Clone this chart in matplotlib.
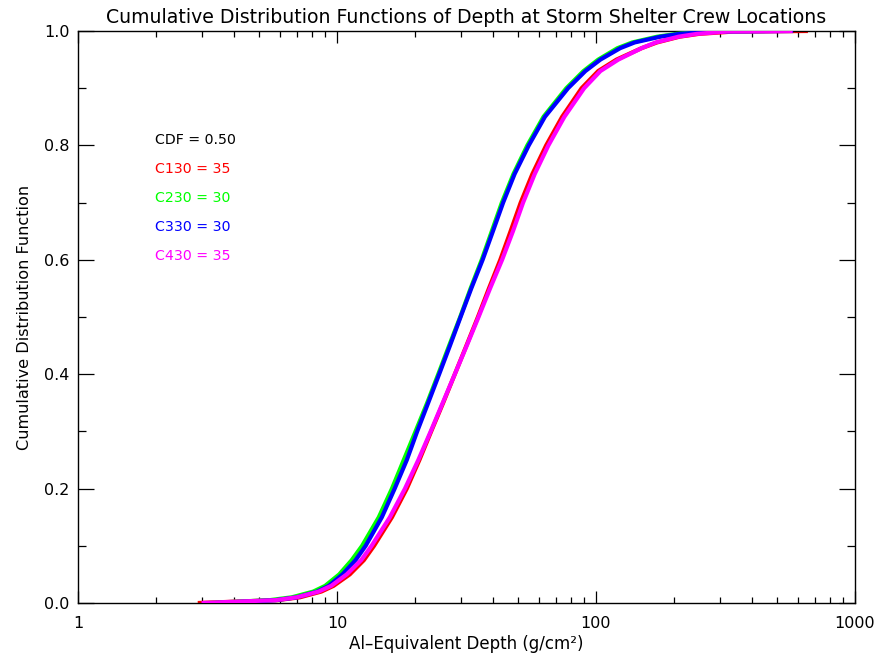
import matplotlib
matplotlib.use("Agg")
import matplotlib.pyplot as plt
from matplotlib.ticker import FixedLocator, NullFormatter, LogLocator
import numpy as np

# Cumulative probability levels shared by all crew locations
cdf_levels = [0.0, 0.005, 0.01, 0.02, 0.03, 0.05, 0.075, 0.10, 0.15, 0.20,
              0.25, 0.30, 0.35, 0.40, 0.45, 0.50, 0.55, 0.60, 0.65, 0.70,
              0.75, 0.80, 0.85, 0.90, 0.93, 0.95, 0.97, 0.98, 0.99, 0.995,
              0.999, 1.0]

# Al-equivalent depth (g/cm^2) reached at each CDF level
depth_c130 = [2.9, 5.9, 7.2, 8.7, 9.7, 11.2, 12.7, 13.9, 16.3, 18.6,
              20.8, 23.1, 25.7, 28.5, 31.6, 35.0, 38.6, 42.7, 46.8, 51.2,
              56.8, 64.2, 74.0, 88.0, 102.0, 120.0, 150.0, 172.0, 210.0, 250.0,
              340.0, 658.0]
depth_c230 = [3.2, 5.5, 6.7, 8.1, 9.0, 10.2, 11.4, 12.5, 14.5, 16.3,
              18.1, 20.1, 22.3, 24.6, 27.1, 29.9, 32.8, 36.2, 39.6, 43.3,
              48.0, 54.3, 62.7, 76.8, 89.5, 102.0, 121.0, 138.0, 172.0, 205.0,
              265.0, 450.0]
depth_c330 = [3.4, 5.8, 7.0, 8.4, 9.3, 10.5, 11.8, 12.9, 14.9, 16.7,
              18.6, 20.4, 22.5, 24.8, 27.3, 30.0, 33.0, 36.5, 40.0, 43.8,
              48.5, 55.0, 63.5, 78.0, 91.0, 104.0, 124.0, 141.0, 177.0, 210.0,
              280.0, 577.0]
depth_c430 = [3.0, 5.8, 7.0, 8.5, 9.5, 10.9, 12.4, 13.6, 16.0, 18.3,
              20.6, 23.0, 25.6, 28.5, 31.7, 35.2, 39.0, 43.4, 47.8, 52.3,
              58.0, 65.5, 75.5, 90.0, 104.0, 122.0, 150.0, 170.0, 208.0, 245.0,
              320.0, 574.0]

series_names = ["C130", "C230", "C330", "C430"]
series_colors = ["#ff0000", "#00ff00", "#0000ff", "#ff00ff"]
medians = [35, 30, 30, 35]

x_ticks = [1, 10, 100, 1000]
x_tick_labels = ["1", "10", "100", "1000"]
y_ticks = [0.0, 0.2, 0.4, 0.6, 0.8, 1.0]
y_tick_labels = ["0.0", "0.2", "0.4", "0.6", "0.8", "1.0"]

plt.rcParams["font.family"] = ["DejaVu Sans"]

fig = plt.figure(figsize=(8.89, 6.55), dpi=100)
ax = fig.add_axes([78 / 889, 1 - 603 / 655, 777 / 889, 572 / 655])

depths = [depth_c130, depth_c230, depth_c330, depth_c430]
for i, d in enumerate(depths):
    ax.plot(d, cdf_levels, color=series_colors[i], lw=3.0,
            solid_capstyle="butt", solid_joinstyle="round", zorder=2 + i)

ax.set_xscale("log")
ax.set_xlim(1, 1000)
ax.set_ylim(0, 1)

ax.xaxis.set_major_locator(FixedLocator(x_ticks))
ax.set_xticklabels(x_tick_labels)
ax.xaxis.set_minor_locator(LogLocator(base=10, subs=np.arange(2, 10)))
ax.xaxis.set_minor_formatter(NullFormatter())
ax.yaxis.set_major_locator(FixedLocator(y_ticks))
ax.set_yticklabels(y_tick_labels)
ax.yaxis.set_minor_locator(FixedLocator(np.arange(0.1, 1.0, 0.2)))

ax.tick_params(axis="x", which="major", direction="in", length=8.5, width=0.9,
               top=True, labelsize=11.5, pad=9)
ax.tick_params(axis="x", which="minor", direction="in", length=4.5, width=0.9, top=True)
ax.tick_params(axis="y", which="major", direction="in", length=11.5, width=0.9,
               right=True, labelsize=11.5, pad=6)
ax.tick_params(axis="y", which="minor", direction="in", length=6, width=0.9, right=True)
for s in ax.spines.values():
    s.set_linewidth(1.0)

ax.set_title("Cumulative Distribution Functions of Depth at Storm Shelter Crew Locations",
             fontsize=13.6, pad=6)
ax.set_xlabel("Al\u2013Equivalent Depth (g/cm\u00b2)", fontsize=12, labelpad=3)
ax.set_ylabel("Cumulative Distribution Function", fontsize=11.6, labelpad=9)

# Median depth annotations
fig.text(155 / 889, 1 - 140 / 655, "CDF = 0.50", color="black", fontsize=10.2,
         va="center", ha="left")
for k, (name, col, med) in enumerate(zip(series_names, series_colors, medians)):
    fig.text(155 / 889, 1 - (169 + 29 * k) / 655, f"{name} = {med}", color=col,
             fontsize=10.2, va="center", ha="left")

fig.savefig("out.png", dpi=100)
